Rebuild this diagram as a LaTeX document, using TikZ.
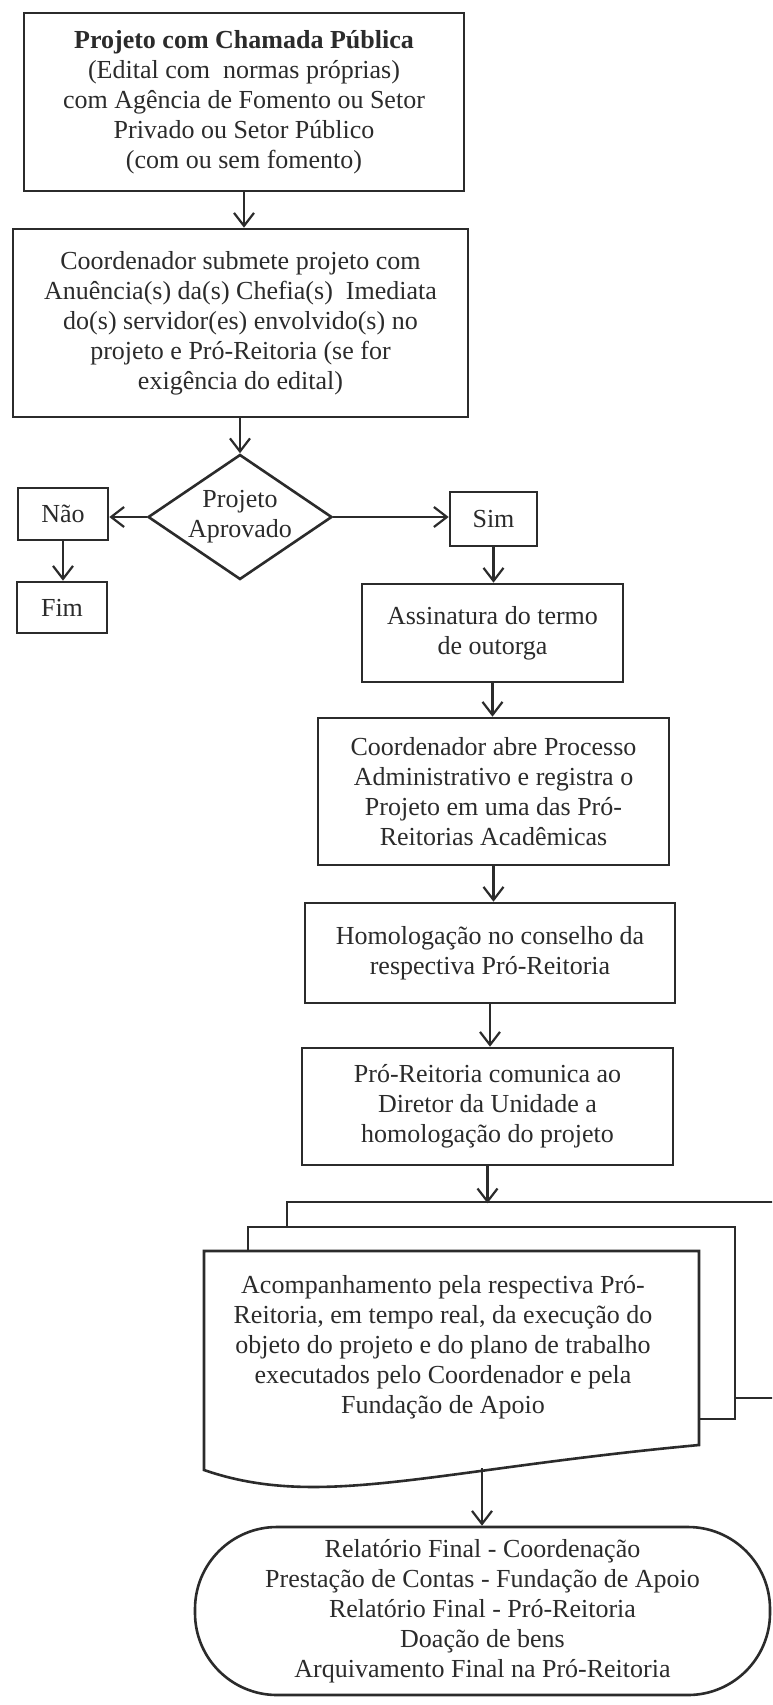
\documentclass[tikz,border=0pt]{standalone}
\usepackage{fontspec}
\setmainfont{Liberation Serif}
\usetikzlibrary{shapes.geometric,arrows.meta,calc}
\definecolor{ink}{HTML}{2B2B2B}
\begin{document}
\begin{tikzpicture}[x=1pt,y=-1pt,
  every node/.style={font=\fontsize{26}{30}\selectfont, align=center, text=ink},
  box/.style={draw=ink, line width=2.6pt, inner sep=0pt, fill=white},
  layer/.style={draw=ink, line width=2.6pt, fill=white},
  flow/.style={draw=ink, line width=2.2pt, -{Straight Barb[length=13pt,width=20pt]}}]
\useasboundingbox (0,0) rectangle (772,1705);
\fill[white] (0,0) rectangle (772,1705);

\node[box, minimum width=440pt, minimum height=178pt] (proj) at (244,102)
  {\textbf{Projeto com Chamada Pública}\\(Edital com~ normas próprias)\\com Agência de Fomento ou Setor\\Privado ou Setor Público\\(com ou sem fomento)};
\node[box, minimum width=455pt, minimum height=188pt] (subm) at (240.5,323)
  {Coordenador submete projeto com\\Anuência(s) da(s) Chefia(s)~ Imediata\\do(s) servidor(es) envolvido(s) no\\projeto e Pró-Reitoria (se for\\exigência do edital)};
\node[diamond, draw=ink, line width=2.6pt, shape aspect=1.5, inner sep=0pt,
  minimum width=184pt, minimum height=125pt] (aprov) at (240,517) {Projeto\\Aprovado};
\node[box, minimum width=90pt, minimum height=52pt] (nao) at (63,514) {Não};
\node[box, minimum width=90pt, minimum height=51pt] (fim) at (62,607.5) {Fim};
\node[box, minimum width=87pt, minimum height=54pt] (sim) at (493.5,519) {Sim};
\node[box, minimum width=261pt, minimum height=98pt] (assin) at (492.5,633)
  {Assinatura do termo\\de outorga};
\node[box, minimum width=351pt, minimum height=147pt] (abre) at (493.5,791.5)
  {Coordenador abre Processo\\Administrativo e registra o\\Projeto em uma das Pró-\\Reitorias Acadêmicas};
\node[box, minimum width=370pt, minimum height=100pt] (homol) at (490,953)
  {Homologação no conselho da\\respectiva Pró-Reitoria};
\node[box, minimum width=371pt, minimum height=117pt] (comun) at (487.5,1106.5)
  {Pró-Reitoria comunica ao\\Diretor da Unidade a\\homologação do projeto};

% multi-document
\begin{scope}
\clip (0,0) rectangle (772,1705);
\draw[layer] (287,1202) rectangle (800,1398);
\end{scope}
\draw[layer] (248,1227) rectangle (735,1419);
\draw[layer] (204,1251) -- (699,1251) -- (699,1445)
  .. controls (430,1470) and (320,1510) .. (204,1470) -- cycle;
\node (acomp) at (443,1347)
  {Acompanhamento pela respectiva Pró-\\Reitoria, em tempo real, da execução do\\objeto do projeto e do plano de trabalho\\executados pelo Coordenador e pela\\Fundação de Apoio};
\coordinate (backtop) at ($(comun.south)+(0,37)$);
\coordinate (wavept) at (482,1468);

\node[draw=ink, line width=2.6pt, rounded corners=82pt, inner sep=0pt,
  minimum width=575pt, minimum height=168pt] (final) at (482.5,1611)
  {Relatório Final - Coordenação\\Prestação de Contas - Fundação de Apoio\\Relatório Final - Pró-Reitoria\\Doação de bens\\Arquivamento Final na Pró-Reitoria};

% connectors
\draw[flow] (proj.south) -- (proj.south |- subm.north);
\draw[flow] (subm.south -| aprov.north) -- (aprov.north);
\draw[flow] (aprov.west) -- (nao.east |- aprov.west);
\draw[flow] (aprov.east) -- (aprov.east -| sim.west);
\draw[flow] (nao.south) -- (nao.south |- fim.north);
\draw[flow] (sim.south) -- (sim.south |- assin.north);
\draw[flow] (assin.south) -- (assin.south |- abre.north);
\draw[flow] (abre.south) -- (abre.south |- homol.north);
\draw[flow] (homol.south) -- (homol.south |- comun.north);
\draw[flow] (comun.south) -- (backtop);
\draw[flow] (wavept) -- (wavept |- final.north);
\end{tikzpicture}
\end{document}
